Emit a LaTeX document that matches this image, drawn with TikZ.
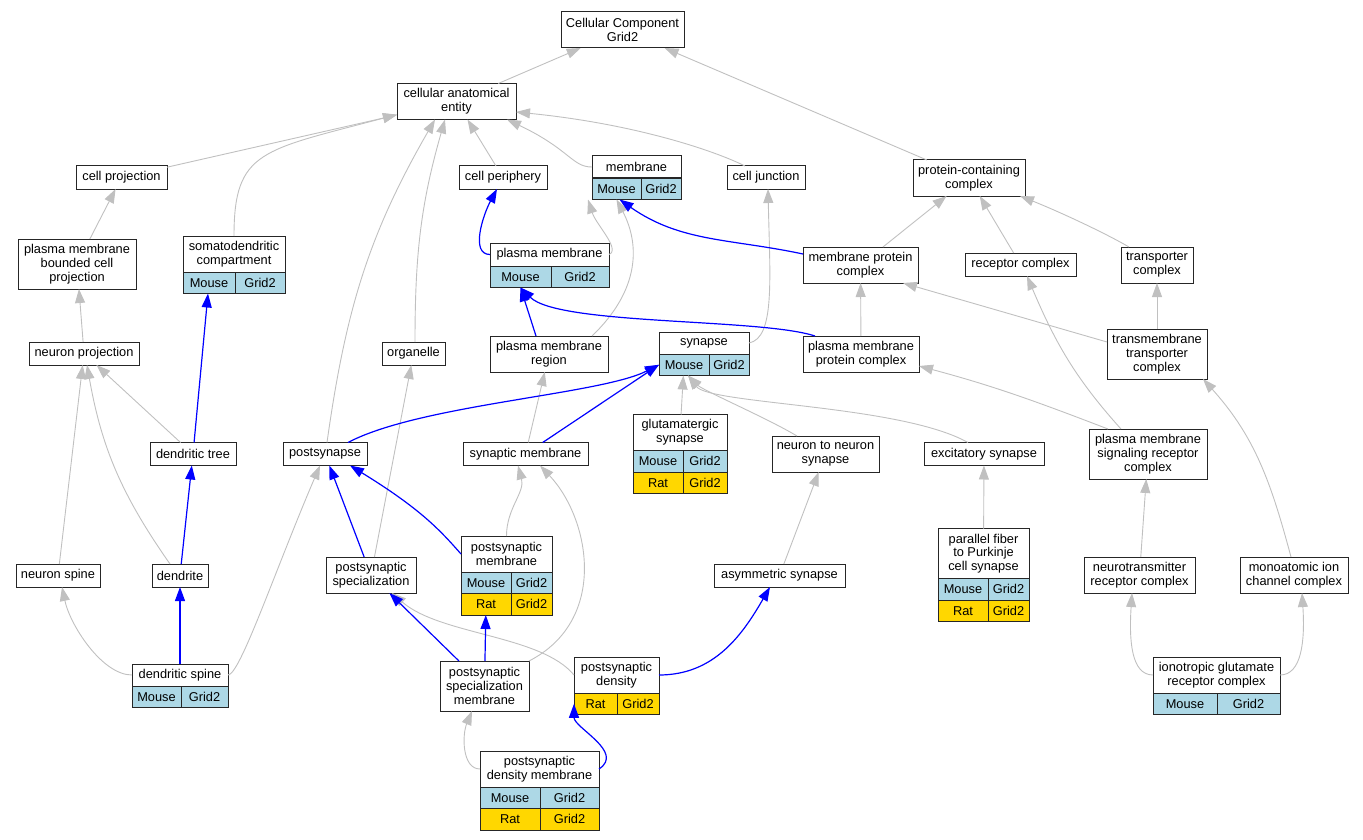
\documentclass[tikz,border=0pt]{standalone}
\usepackage{fontspec}
\setmainfont{Liberation Sans}
\usepackage{tikz}
\usetikzlibrary{arrows.meta, positioning}
\definecolor{lightblue}{HTML}{ADD8E6}
\definecolor{gold}{HTML}{FFD700}
\definecolor{silver}{HTML}{C0C0C0}
\newcommand\gofont{\fontsize{12.8pt}{13.8pt}\selectfont}
\tikzset{
		term/.style={draw=black!85, line width=1pt, fill=white, inner sep=0pt, outer sep=0pt, align=center, font=\gofont, minimum width=#1},
		one/.style={minimum height=23pt},
		two/.style={minimum height=36pt},
		three/.style={minimum height=50pt},
		mouse/.style={term=#1, fill=lightblue, minimum height=21.5pt},
		rat/.style={term=#1, fill=gold, minimum height=21.5pt},
		isa/.style={->, draw=silver, line width=0.9pt},
		partof/.style={->, draw=blue, line width=1.2pt}
	}

\begin{document}
\begin{tikzpicture}[x=1pt, y=1pt, >={Triangle[length=14pt,width=10pt]}]
				\useasboundingbox (0,0) rectangle (1363,-840);
				% top rows
				\node[term=123pt, two]   (cc)    at (622.5,-30)   {Cellular Component\\Grid2};
				\node[term=119pt, two]   (cae)   at (456.5,-101.5) {cellular anatomical\\entity};
				\node[term=91pt, one]    (cproj) at (121.5,-177.5) {cell projection};
				\node[term=88pt, one]    (cper)  at (503,-177.5)   {cell periphery};
				\node[term=89pt, minimum height=22pt] (memb) at (636.5,-167) {membrane};
				\node[mouse=49pt] (memb-m) [below right=0pt and 0pt of memb.south west] {Mouse};
				\node[mouse=40pt] (memb-g) [right=0pt of memb-m] {Grid2};
				\node[term=78pt, one]    (cjunc) at (766,-177.5)   {cell junction};
				\node[term=112pt, two]   (pcc)   at (969,-178)     {protein-containing\\complex};
				\node[term=118pt, three] (pmbcp) at (77,-264)      {plasma membrane\\bounded cell\\projection};
				\node[term=102pt, two]   (sdc)   at (234,-254)     {somatodendritic\\compartment};
				\node[mouse=52pt] (sdc-m) [below right=0pt and 0pt of sdc.south west] {Mouse};
				\node[mouse=50pt] (sdc-g) [right=0pt of sdc-m] {Grid2};
				\node[term=119pt, one]   (pm)    at (549.5,-254.5) {plasma membrane};
				\node[mouse=61pt] (pm-m) [below right=0pt and 0pt of pm.south west] {Mouse};
				\node[mouse=58pt] (pm-g) [right=0pt of pm-m] {Grid2};
				\node[term=115pt, two]   (mpc)   at (860.5,-265)   {membrane protein\\complex};
				\node[term=111pt, one]   (recc)  at (1020.5,-264.5) {receptor complex};
				\node[term=72pt, two]    (trc)   at (1157,-265)    {transporter\\complex};
				% middle rows
				\node[term=110pt, one]   (nproj) at (84,-353.5)    {neuron projection};
				\node[term=63pt, one]    (org)   at (413.5,-353.5) {organelle};
				\node[term=118pt, two]   (pmr)   at (549,-354)     {plasma membrane\\region};
				\node[term=90pt, minimum height=22pt] (syn) at (704,-343) {synapse};
				\node[mouse=50pt] (syn-m) [below right=0pt and 0pt of syn.south west] {Mouse};
				\node[mouse=40pt] (syn-g) [right=0pt of syn-m] {Grid2};
				\node[term=116pt, two]   (pmpc)  at (861,-354)     {plasma membrane\\protein complex};
				\node[term=100pt, three] (tmtc)  at (1157,-354)    {transmembrane\\transporter\\complex};
				\node[term=86pt, one]    (dtree) at (193,-454)     {dendritic tree};
				\node[term=84pt, one]    (psyn)  at (325,-454)     {postsynapse};
				\node[term=125pt, one]   (synm)  at (525.5,-454)   {synaptic membrane};
				\node[term=94pt, two]    (glut)  at (680,-432.5)   {glutamatergic\\synapse};
				\node[mouse=50pt] (glut-m) [below right=0pt and 0pt of glut.south west] {Mouse};
				\node[mouse=44pt] (glut-g) [right=0pt of glut-m] {Grid2};
				\node[rat=50pt]   (glut-r) [below=0pt of glut-m] {Rat};
				\node[rat=44pt]   (glut-rg) [right=0pt of glut-r] {Grid2};
				\node[term=107pt, two]   (n2n)   at (825.5,-454)   {neuron to neuron\\synapse};
				\node[term=120pt, one]   (exc)   at (984,-454)     {excitatory synapse};
				\node[term=118pt, three] (pmsrc) at (1148,-454)    {plasma membrane\\signaling receptor\\complex};
				% lower rows
				\node[term=84pt, one]    (nspine) at (58,-575.5)   {neuron spine};
				\node[term=56pt, one]    (dend)  at (180,-575.5)   {dendrite};
				\node[term=90pt, two]    (pss)   at (371,-575)     {postsynaptic\\specialization};
				\node[term=91pt, two]    (psmem) at (506.5,-554)   {postsynaptic\\membrane};
				\node[mouse=50pt] (psmem-m) [below right=0pt and 0pt of psmem.south west] {Mouse};
				\node[mouse=41pt] (psmem-g) [right=0pt of psmem-m] {Grid2};
				\node[rat=50pt]   (psmem-r) [below=0pt of psmem-m] {Rat};
				\node[rat=41pt]   (psmem-rg) [right=0pt of psmem-r] {Grid2};
				\node[term=131pt, one]   (asym)  at (779.5,-575.5) {asymmetric synapse};
				\node[term=91pt, three]  (pfpc)  at (983.5,-553.5) {parallel fiber\\to Purkinje\\cell synapse};
				\node[mouse=50pt] (pfpc-m) [below right=0pt and 0pt of pfpc.south west] {Mouse};
				\node[mouse=41pt] (pfpc-g) [right=0pt of pfpc-m] {Grid2};
				\node[rat=50pt]   (pfpc-r) [below=0pt of pfpc-m] {Rat};
				\node[rat=41pt]   (pfpc-rg) [right=0pt of pfpc-r] {Grid2};
				\node[term=111pt, two]   (ntrc)  at (1139.5,-575)  {neurotransmitter\\receptor complex};
				\node[term=108pt, two]   (mic)   at (1294,-575)    {monoatomic ion\\channel complex};
				\node[term=96pt, minimum height=22pt] (dspine) at (180,-675) {dendritic spine};
				\node[mouse=49pt] (dspine-m) [below right=0pt and 0pt of dspine.south west] {Mouse};
				\node[mouse=47pt] (dspine-g) [right=0pt of dspine-m] {Grid2};
				\node[term=89pt, three]  (pssm)  at (484.5,-686)   {postsynaptic\\specialization\\membrane};
				\node[term=85pt, two]    (pd)    at (616.5,-675)   {postsynaptic\\density};
				\node[rat=43pt]   (pd-r)  [below right=0pt and 0pt of pd.south west] {Rat};
				\node[rat=42pt]   (pd-rg) [right=0pt of pd-r] {Grid2};
				\node[term=127pt, two]   (igrc)  at (1216.5,-675)  {ionotropic glutamate\\receptor complex};
				\node[mouse=64pt] (igrc-m) [below right=0pt and 0pt of igrc.south west] {Mouse};
				\node[mouse=63pt] (igrc-g) [right=0pt of igrc-m] {Grid2};
				\node[term=119pt, two]   (pdm)   at (539.5,-769)   {postsynaptic\\density membrane};
				\node[mouse=60pt] (pdm-m) [below right=0pt and 0pt of pdm.south west] {Mouse};
				\node[mouse=59pt] (pdm-g) [right=0pt of pdm-m] {Grid2};
				\node[rat=60pt]   (pdm-r) [below=0pt of pdm-m] {Rat};
				\node[rat=59pt]   (pdm-rg) [right=0pt of pdm-r] {Grid2};
				% is_a edges
				\draw[isa] (cae) -- (cc);
				\draw[isa] (pcc) -- (cc);
				\draw[isa] (cproj) -- (cae);
				\draw[isa] (sdc.north) .. controls +(0,86) and +(-135,-36) .. ([yshift=-13pt]cae.west);
				\draw[isa] (cper) -- (cae);
				\draw[isa] (memb.west) .. controls +(-20,0) and +(63,-30) .. ([xshift=-9pt]cae.south east);
				\draw[isa] ([xshift=-21pt]cjunc.north) .. controls +(-30,15) and +(120,-12) .. ([yshift=-10.5pt]cae.east);
				\draw[isa] ([xshift=2pt]psyn.north) to[out=82, in=-120] ([xshift=-21.5pt]cae.south);
				\draw[isa] ([xshift=1.5pt]org.north) to[out=90, in=-106] ([xshift=-11.5pt]cae.south);
				\draw[isa] (pmbcp) -- (cproj);
				\draw[isa] (nproj) -- (pmbcp);
				\draw[isa] (dtree) -- (nproj);
				\draw[isa] ([xshift=-10pt]dend.north) to[out=125, in=-80] ([xshift=3pt]nproj.south);
				\draw[isa] (nspine) -- (nproj);
				\draw[isa] (dspine.west) .. controls +(-30,0) and +(8,-38) .. ([xshift=4pt]nspine.south);
				\draw[isa] (dspine.east) .. controls +(12,0) and +(-45,-105) .. ([xshift=-5pt]psyn.south);
				\draw[isa] (pss) -- (org);
				\draw[isa] (pm.east) .. controls +(12,5) and +(8,-25) .. ([xshift=-4pt]memb-m.south west);
				\draw[isa] ([xshift=43pt]pmr.north) .. controls +(48,46) and +(23.5,-45) .. (memb-m.south);
				\draw[isa] (syn.east) .. controls +(26,5) and +(2,-91) .. ([xshift=2pt]cjunc.south);
				\draw[isa] (synm) -- (pmr);
				\draw[isa] (glut) -- (syn-m);
				\draw[isa] ([xshift=-28.5pt]n2n.north) .. controls +(-30,18) and +(15,-15) .. ([xshift=4pt]syn-m.south);
				\draw[isa] ([xshift=-16pt]exc.north) .. controls +(-68,38) and +(22,-29) .. ([xshift=4pt]syn-m.south);
				\draw[isa] (psmem.north) to[out=90, in=-75] ([xshift=-7.5pt]synm.south);
				\draw[isa] (pssm.north east) .. controls +(80,41) and +(50,-53) .. ([xshift=14.5pt]synm.south);
				\draw[isa] (pd.west) .. controls +(-33,40) and +(48,-42) .. ([xshift=21pt]pss.south);
				\draw[isa] (pdm.west) .. controls +(-18,0) and +(-10,-24) .. ([xshift=-12.5pt]pssm.south);
				\draw[isa] (asym) -- (n2n);
				\draw[isa] (pfpc) -- (exc);
				\draw[isa] (mpc) -- (pcc);
				\draw[isa] (recc) -- (pcc);
				\draw[isa] ([xshift=-28pt]trc.north) .. controls +(-24,14) and +(40,-16) .. ([xshift=-5pt]pcc.south east);
				\draw[isa] (pmpc) -- (mpc);
				\draw[isa] (tmtc) -- (trc);
				\draw[isa] ([yshift=12pt]tmtc.west) -- ([xshift=-15pt]mpc.south east);
				\draw[isa] ([xshift=-27pt]pmsrc.north) to[out=132, in=-67] ([xshift=6.5pt]recc.south);
				\draw[isa] ([xshift=-40pt]pmsrc.north) to[out=159, in=-15] ([yshift=-12pt]pmpc.east);
				\draw[isa] ([xshift=-3pt]mic.north) to[out=105, in=-48] ([xshift=-4pt]tmtc.south east);
				\draw[isa] (ntrc) -- (pmsrc);
				\draw[isa] (igrc.west) .. controls +(-22,0) and +(-3,-47) .. ([xshift=-7.5pt]ntrc.south);
				\draw[isa] (igrc.east) .. controls +(22,0) and +(3,-47) .. ([xshift=8pt]mic.south);
				% part_of edges
				\draw[partof] (dtree) -- (sdc-m);
				\draw[partof] (dend) -- (dtree);
				\draw[partof] (dspine) -- (dend);
				\draw[partof] ([xshift=23pt]psyn.north) .. controls +(72,38) and +(-59,-30) .. (syn-m.west);
				\draw[partof] (synm) -- (syn-m.west);
				\draw[partof] (pss) -- (psyn);
				\draw[partof] (psmem.west) .. controls +(-21,24) and +(70,-43) .. ([xshift=25pt]psyn.south);
				\draw[partof] ([xshift=-13pt]pmr.north) -- (pm-m.south);
				\draw[partof] ([xshift=-46pt]pmpc.north) .. controls +(-55,18) and +(38,-38) .. (pm-m.south);
				\draw[partof] (pm.west) .. controls +(-20,0) and +(-14,-26) .. ([xshift=-6pt]cper.south);
				\draw[partof] ([yshift=11pt]mpc.west) to[out=168, in=-35] ([xshift=3pt]memb-m.south);
				\draw[partof] (pssm) -- (pss);
				\draw[partof] (pssm) -- (psmem-r);
				\draw[partof] (pd.east) to[out=0, in=-120] ([xshift=-9.5pt]asym.south);
				\draw[partof] (pdm.east) .. controls +(26,17) and +(0,-24) .. (pd-r.west);
			\end{tikzpicture}
\end{document}
